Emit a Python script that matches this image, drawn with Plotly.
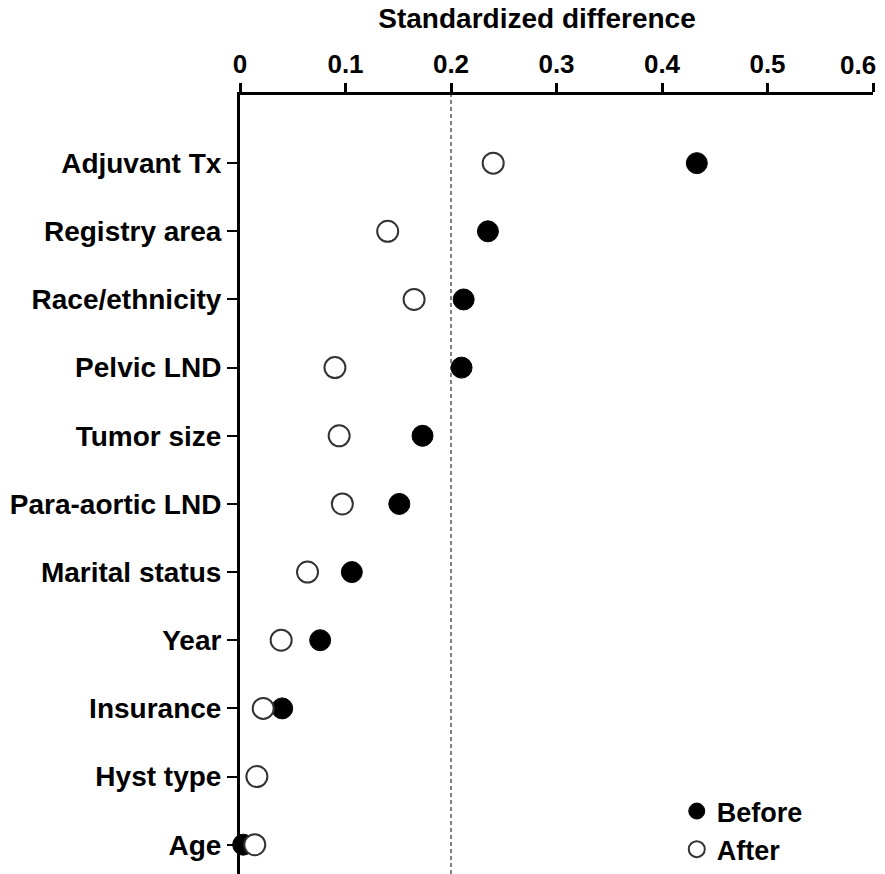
import plotly.graph_objects as go

categories = ["Adjuvant Tx", "Registry area", "Race/ethnicity", "Pelvic LND", "Tumor size",
              "Para-aortic LND", "Marital status", "Year", "Insurance", "Hyst type", "Age"]
before = [0.433, 0.235, 0.212, 0.210, 0.173, 0.151, 0.106, 0.076, 0.040, 0.016, 0.003]
after = [0.240, 0.140, 0.165, 0.090, 0.094, 0.097, 0.064, 0.039, 0.022, 0.016, 0.014]
x_ticks = [0, 0.1, 0.2, 0.3, 0.4, 0.5, 0.6]
x_ticklabels = ["0", "0.1", "0.2", "0.3", "0.4", "0.5", "0.6"]

FONT = "Liberation Sans, Arial, sans-serif"

fig = go.Figure()
fig.add_trace(go.Scatter(
    x=before, y=categories, mode="markers", name="<b>Before</b>",
    marker=dict(size=21, color="black", line=dict(color="black", width=1)),
    cliponaxis=False,
))
fig.add_trace(go.Scatter(
    x=after, y=categories, mode="markers", name="<b>After</b>",
    marker=dict(size=21, color="white", line=dict(color="#333333", width=2)),
    cliponaxis=False,
))

fig.add_shape(type="line", xref="x", yref="paper", x0=0.2, x1=0.2, y0=0, y1=1,
              line=dict(color="black", width=1, dash="4px,3px"), layer="below")

# last tick label sits inside the page edge, as in the reference
tick_text = ["<b>%s</b>" % t for t in x_ticklabels[:-1]] + [""]
fig.add_annotation(text="<b>%s</b>" % x_ticklabels[-1], xref="x", x=x_ticks[-1],
                   xanchor="right", xshift=5, yref="paper", y=1 + 30 / 779,
                   yanchor="middle", showarrow=False,
                   font=dict(family=FONT, size=26, color="black"))

fig.update_layout(
    width=885, height=874,
    margin=dict(l=240, r=12, t=95, b=0, autoexpand=False),
    paper_bgcolor="white", plot_bgcolor="white",
    font=dict(family=FONT, size=26, color="black"),
    showlegend=True,
    title=dict(text="<b>Standardized difference</b>", x=537 / 885, xanchor="center",
               y=1 - 18 / 874, yanchor="middle", font=dict(family=FONT, size=28, color="black")),
    legend=dict(x=0.69, y=0.0, xanchor="left", yanchor="bottom",
                font=dict(family=FONT, size=27, color="black"),
                bgcolor="rgba(0,0,0,0)", itemsizing="trace", tracegroupgap=0),
    xaxis=dict(
        side="top", range=[0, 0.6], tickvals=x_ticks, ticktext=tick_text,
        automargin=False,
        showgrid=False, zeroline=False, showline=True, linecolor="black", linewidth=3,
        ticks="outside", ticklen=9, tickwidth=3, tickcolor="black",
        tickfont=dict(family=FONT, size=26, color="black"),
    ),
    yaxis=dict(
        categoryorder="array", categoryarray=categories,
        tickvals=categories, ticktext=["<b>%s</b>" % c for c in categories],
        range=[10.43, -1.0], autorange=False, automargin=False,
        showgrid=False, zeroline=False, showline=True, linecolor="black", linewidth=3,
        ticks="outside", ticklen=10, tickwidth=2, tickcolor="black",
        tickfont=dict(family=FONT, size=28, color="black"),
    ),
)

fig.write_html("out.html")
